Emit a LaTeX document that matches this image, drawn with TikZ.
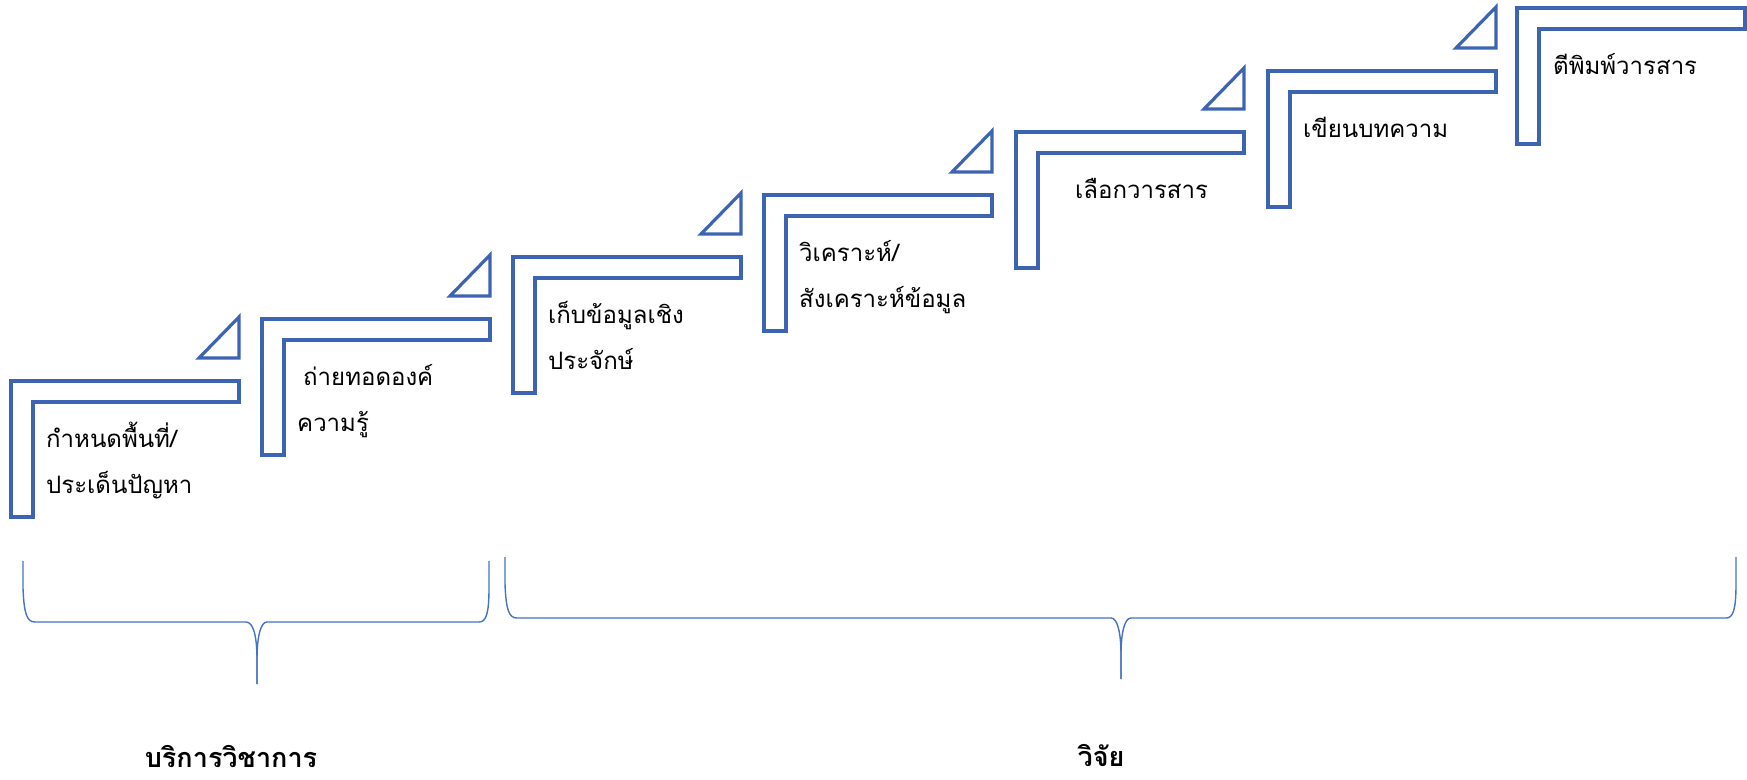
\documentclass[tikz,border=0pt]{standalone}
\usepackage{fontspec}
\newfontfamily\thaifont[Script=Thai]{Loma}
\usepackage{tikz}
\usepackage{xcolor}
\definecolor{stepblue}{RGB}{61,100,178}
\definecolor{braceblue}{RGB}{68,114,196}

\begin{document}
\begin{tikzpicture}[x=1pt,y=-1pt]
		\tikzstyle{stepshape}=[draw=stepblue, line width=3.2pt, line join=miter]
		\tikzstyle{brace}=[draw=braceblue, line width=1.4pt]
		\tikzstyle{steptext}=[anchor=base west, inner sep=0pt, font=\thaifont\fontsize{24}{28}\selectfont]
		\tikzstyle{grouptext}=[anchor=base, inner sep=0pt, font=\thaifont\bfseries\fontsize{27}{30}\selectfont]
		\useasboundingbox (0,0) rectangle (1747,779);

		% steps
		\draw[stepshape] (11,381) -- ++(228,0) -- ++(0,21) -- ++(-206,0) -- ++(0,115) -- ++(-22,0) -- cycle;
		\draw[stepshape] (262,319) -- ++(228,0) -- ++(0,21) -- ++(-206,0) -- ++(0,115) -- ++(-22,0) -- cycle;
		\draw[stepshape] (513,257) -- ++(228,0) -- ++(0,21) -- ++(-206,0) -- ++(0,115) -- ++(-22,0) -- cycle;
		\draw[stepshape] (764,195) -- ++(228,0) -- ++(0,21) -- ++(-206,0) -- ++(0,115) -- ++(-22,0) -- cycle;
		\draw[stepshape] (1016,132) -- ++(228,0) -- ++(0,21) -- ++(-206,0) -- ++(0,115) -- ++(-22,0) -- cycle;
		\draw[stepshape] (1268,71) -- ++(228,0) -- ++(0,21) -- ++(-206,0) -- ++(0,115) -- ++(-22,0) -- cycle;
		\draw[stepshape] (1517,8) -- ++(228,0) -- ++(0,21) -- ++(-206,0) -- ++(0,115) -- ++(-22,0) -- cycle;

		% triangles
		\draw[stepshape] (199,358) -- ++(40,0) -- ++(0,-41) -- cycle;
		\draw[stepshape] (450,296) -- ++(40,0) -- ++(0,-41) -- cycle;
		\draw[stepshape] (701,234) -- ++(40,0) -- ++(0,-41) -- cycle;
		\draw[stepshape] (952,172) -- ++(40,0) -- ++(0,-41) -- cycle;
		\draw[stepshape] (1204,109) -- ++(40,0) -- ++(0,-41) -- cycle;
		\draw[stepshape] (1456,48) -- ++(40,0) -- ++(0,-41) -- cycle;

		\node[steptext] (s1a) at (46,447) {กำหนดพื้นที่/};
		\node[steptext] (s1b) at (46,493) {ประเด็นปัญหา};
		\node[steptext] (s2a) at (303,385) {ถ่ายทอดองค์};
		\node[steptext] (s2b) at (297,431) {ความรู้};
		\node[steptext] (s3a) at (548,323) {เก็บข้อมูลเชิง};
		\node[steptext] (s3b) at (548,369) {ประจักษ์};
		\node[steptext] (s4a) at (799,261) {วิเคราะห์/};
		\node[steptext] (s4b) at (799,307) {สังเคราะห์ข้อมูล};
		\node[steptext] (s5a) at (1075,198) {เลือกวารสาร};
		\node[steptext] (s6a) at (1303,137) {เขียนบทความ};
		\node[steptext] (s7a) at (1553,74) {ตีพิมพ์วารสาร};

		% braces
		\coordinate (tipservice) at (257,684);
		\coordinate (tipresearch) at (1121,679);
		\draw[brace] (23,561) -- (23,588) .. controls (24,614) and (27,622) .. (35,622) -- (246,622) .. controls (253,622) and (257,635) .. (257,660) -- (tipservice);
		\draw[brace] (tipservice) -- (257,660) .. controls (257,635) and (261,622) .. (267,622) -- (479,622) .. controls (486,622) and (489,614) .. (489,588) -- (489,561);
		\draw[brace] (505,557) -- (505,584) .. controls (506,610) and (509,618) .. (517,618) -- (1111,618) .. controls (1117,618) and (1121,631) .. (1121,655) -- (tipresearch);
		\draw[brace] (tipresearch) -- (1121,655) .. controls (1121,631) and (1125,618) .. (1131,618) -- (1726,618) .. controls (1733,618) and (1736,610) .. (1736,584) -- (1736,557);

		\node[grouptext] (service) at (231,767) {บริการวิชาการ};
		\node[grouptext] (research) at (1101,766) {วิจัย};
	\end{tikzpicture}
\end{document}
